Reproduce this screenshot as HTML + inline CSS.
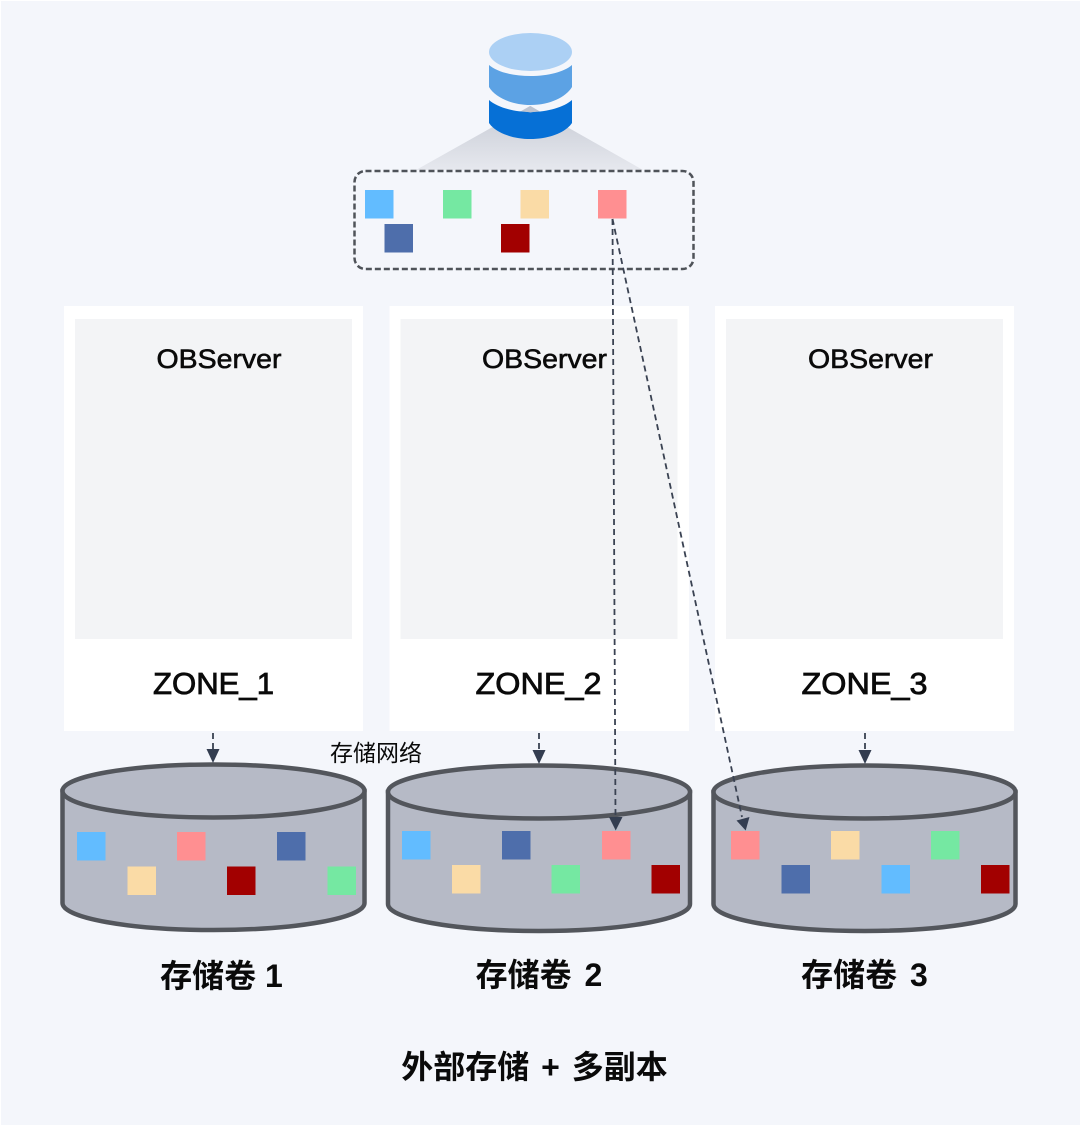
<!DOCTYPE html>
<html><head><meta charset="utf-8">
<style>html,body{margin:0;padding:0;background:#fff}svg{display:block}
text{font-family:"Liberation Sans","Noto Sans CJK SC",sans-serif;fill:#0a0a0a}
.ob{font-size:27px;stroke:#0a0a0a;stroke-width:.6px}
.z{font-size:31px;stroke:#0a0a0a;stroke-width:.8px}
.v{font-size:32px;font-weight:bold}</style></head>
<body>
<svg width="1080" height="1127" viewBox="0 0 1080 1127" xmlns="http://www.w3.org/2000/svg">
<defs>
<linearGradient id="g" x1="0" y1="0" x2="0" y2="1"><stop offset="0" stop-color="#c6cad4"/><stop offset="1" stop-color="#e6e8ee"/></linearGradient>
<g id="cyl">
<path d="M62.500 791V903C62.500 918 130 930 213.500 930S364.500 918 364.500 903V791Z" fill="#b6bac6" stroke="#53565c" stroke-width="4.500"/>
<ellipse cx="213.500" cy="791" rx="151" ry="26.500" fill="#b6bac6" stroke="#53565c" stroke-width="4.500"/>
</g>
</defs>
<rect x="1" y="1" width="1079" height="1124" fill="#f4f6fb"/>

<!-- database icon -->
<path d="M530 106L416 170H643Z" fill="url(#g)"/>
<path d="M489 100C497 107 513 112 530.500 112S564 107 572 100V123C566 132 550 139 530.500 139S495 132 489 123Z" fill="#0670d6"/>
<path d="M530.500 106L522 111 530.500 112.500 539 111Z" fill="#bcc3d0"/>
<path d="M489 65C497 72 513 76 530.500 76S564 72 572 65V87C566 97 550 105 530.500 105S495 97 489 87Z" fill="#5ca2e4"/>
<ellipse cx="530.500" cy="52" rx="41.500" ry="19" fill="#acd0f4"/>

<!-- dashed group -->
<rect x="354.500" y="171" width="339" height="98" rx="11" fill="none" stroke="#4f5359" stroke-width="2.500" stroke-dasharray="6 3"/>
<rect x="365" y="190" width="28.500" height="28.500" fill="#62bcff"/>
<rect x="443" y="190" width="28.500" height="28.500" fill="#75e8a2"/>
<rect x="520.500" y="190" width="28.500" height="28.500" fill="#fadba6"/>
<rect x="598" y="190" width="28.500" height="28.500" fill="#ff8f91"/>
<rect x="384.500" y="224" width="28.500" height="28.500" fill="#4e6eab"/>
<rect x="501" y="224" width="28.500" height="28.500" fill="#a20000"/>

<!-- zones -->
<rect x="64" y="306" width="299" height="425" fill="#fff"/>
<rect x="75" y="319" width="277" height="320" fill="#f3f4f6"/>
<rect x="389.500" y="306" width="299.500" height="425" fill="#fff"/>
<rect x="400.500" y="319" width="277" height="320" fill="#f3f4f6"/>
<rect x="715" y="306" width="299" height="425" fill="#fff"/>
<rect x="726" y="319" width="277" height="320" fill="#f3f4f6"/>
<text class="ob" x="219" y="368" text-anchor="middle" textLength="125" lengthAdjust="spacingAndGlyphs">OBServer</text>
<text class="ob" x="544.500" y="368" text-anchor="middle" textLength="125" lengthAdjust="spacingAndGlyphs">OBServer</text>
<text class="ob" x="870.500" y="368" text-anchor="middle" textLength="125" lengthAdjust="spacingAndGlyphs">OBServer</text>
<text class="z" x="213.500" y="694" text-anchor="middle" textLength="121" lengthAdjust="spacingAndGlyphs">ZONE_1</text>
<text class="z" x="538.500" y="694" text-anchor="middle" textLength="126" lengthAdjust="spacingAndGlyphs">ZONE_2</text>
<text class="z" x="864.500" y="694" text-anchor="middle" textLength="126" lengthAdjust="spacingAndGlyphs">ZONE_3</text>

<!-- cylinders -->
<use href="#cyl"/>
<use href="#cyl" x="325.500" y="1"/>
<use href="#cyl" x="651" y="1"/>

<!-- cyl 1 squares -->
<rect x="77" y="832" width="28.500" height="28.500" fill="#62bcff"/>
<rect x="177" y="832" width="28.500" height="28.500" fill="#ff8f91"/>
<rect x="277" y="832" width="28.500" height="28.500" fill="#4e6eab"/>
<rect x="127.500" y="866.500" width="28.500" height="28.500" fill="#fadba6"/>
<rect x="227" y="866.500" width="28.500" height="28.500" fill="#a20000"/>
<rect x="327.500" y="866.500" width="28.500" height="28.500" fill="#75e8a2"/>
<!-- cyl 2 squares -->
<rect x="402" y="831" width="28.500" height="28.500" fill="#62bcff"/>
<rect x="502" y="831" width="28.500" height="28.500" fill="#4e6eab"/>
<rect x="602" y="831" width="28.500" height="28.500" fill="#ff8f91"/>
<rect x="452" y="865" width="28.500" height="28.500" fill="#fadba6"/>
<rect x="551.500" y="865" width="28.500" height="28.500" fill="#75e8a2"/>
<rect x="651.500" y="865" width="28.500" height="28.500" fill="#a20000"/>
<!-- cyl 3 squares -->
<rect x="731" y="831" width="28.500" height="28.500" fill="#ff8f91"/>
<rect x="831" y="831" width="28.500" height="28.500" fill="#fadba6"/>
<rect x="931" y="831" width="28.500" height="28.500" fill="#75e8a2"/>
<rect x="781.500" y="865" width="28.500" height="28.500" fill="#4e6eab"/>
<rect x="881.500" y="865" width="28.500" height="28.500" fill="#62bcff"/>
<rect x="981" y="865" width="28.500" height="28.500" fill="#a20000"/>

<!-- connectors -->
<g fill="none" stroke="#3a4252" stroke-width="1.800" stroke-dasharray="6 4">
<path d="M213 733V752"/>
<path d="M539 733V752"/>
<path d="M865 733V752"/>
<path d="M612.500 219L615.500 818"/>
<path d="M612.500 219L742 817"/>
</g>
<g fill="#333d50">
<path d="M206.500 749H219.500L213 763Z"/>
<path d="M532.500 750H545.500L539 764Z"/>
<path d="M858.500 750H871.500L865 764Z"/>
<path d="M609 817H622.500L615.700 830.500Z"/>
<path d="M736.500 820.500L749.500 817L745.700 830.500Z"/>
</g>

<!-- labels -->
<text x="376" y="761" font-size="23" text-anchor="middle">存储网络</text>
<text class="v" x="221.500" y="987" text-anchor="middle">存储卷 1</text>
<text class="v" x="539" y="986" text-anchor="middle" word-spacing="4">存储卷 2</text>
<text class="v" x="864.500" y="986" text-anchor="middle" word-spacing="4">存储卷 3</text>
<text class="v" x="534.500" y="1078" text-anchor="middle" word-spacing="3">外部存储 + 多副本</text>
</svg>
</body></html>
